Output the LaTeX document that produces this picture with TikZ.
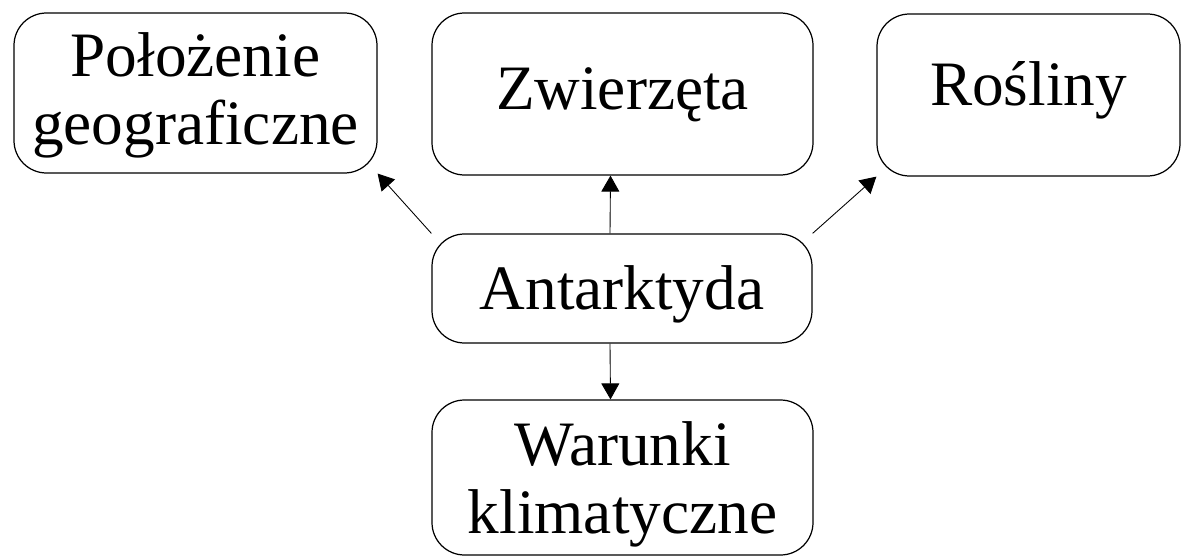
\documentclass[tikz,border=0pt]{standalone}
\usepackage{fontspec}
\setmainfont{Liberation Serif}
\usepackage{tikz}
\usetikzlibrary{positioning, calc, arrows.meta}

\begin{document}
\begin{tikzpicture}[every node/.style={font=\fontsize{36}{38.6}\selectfont},
	box/.style={draw, line width=0.7pt, rounded corners=0.65cm, inner sep=0pt},
	arr/.style={line width=0.5pt, -{Triangle[length=0.32cm,width=0.36cm]}}]
\useasboundingbox (0,0) rectangle (23.72,11.16);
	\node [box, align=center, minimum width=7.26cm, minimum height=3.2cm] (geo) at (3.91, 9.30) {\rule{0pt}{28pt}Położenie\\geograficzne};
	\node [box, minimum width=7.62cm, minimum height=3.24cm, text height=23.8pt, text depth=5.6pt] (zw) at (12.45, 9.28) {Zwierzęta};
	\node [box, minimum width=6.06cm, minimum height=3.24cm, text height=23.8pt, text depth=12.4pt] (ros) at (20.57, 9.26) {Rośliny};
	\node [box, minimum width=7.6cm, minimum height=2.18cm, text height=23.8pt, text depth=0pt] (ant) at (12.44, 5.39) {Antarktyda};
	\node [box, align=center, minimum width=7.62cm, minimum height=3.1cm] (war) at (12.45, 1.61) {\rule{0pt}{32.5pt}Warunki\\klimatyczne};

	\draw [arr] (ant.north west) -- (geo.south east);
	\draw [arr] ([xshift=-0.24cm]ant.north) -- ([xshift=-0.24cm]zw.south);
	\draw [arr] (ant.north east) -- (ros.south west);
	\draw [arr] ([xshift=-0.24cm]ant.south) -- ([xshift=-0.24cm]war.north);
\end{tikzpicture}
\end{document}
